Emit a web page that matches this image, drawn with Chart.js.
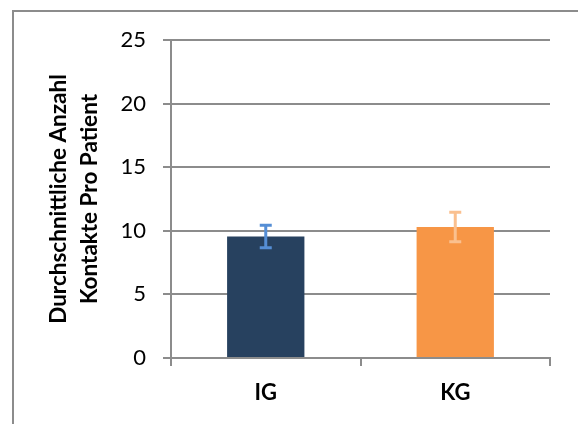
<!DOCTYPE html>
<html>
<head>
<meta charset="utf-8">
<script src="https://cdn.jsdelivr.net/npm/chart.js@4"></script>
<style>
  html, body { margin: 0; padding: 0; background: #fff; }
  canvas { display: block; }
</style>
</head>
<body>
<canvas id="myBarChart" width="578" height="424"></canvas>
<script>
// data
const groups = ['IG', 'KG'];
const means = [9.55, 10.29];
const errors = [0.88, 1.16];
const yTicks = [0, 5, 10, 15, 20, 25];

const barColors = ['#27415f', '#f79646'];
const errorColors = ['#558ed5', '#fac08f'];
const gray = '#8c8c8c';

// outline of the chart box (only top and left fall inside the picture)
const frame = {
    id: 'frame',
    beforeDraw(chart) {
        const ctx = chart.ctx;
        ctx.save();
        ctx.fillStyle = '#fff';
        ctx.fillRect(0, 0, chart.width, chart.height);
        ctx.strokeStyle = gray;
        ctx.lineWidth = 2;
        ctx.strokeRect(13, 11, chart.width + 20, chart.height + 20);
        ctx.restore();
    }
};

// simple +/- error whiskers, placed with the y scale
const errorBars = {
    id: 'errorBars',
    afterDatasetsDraw(chart) {
        const ctx = chart.ctx;
        const y = chart.scales.y;
        chart.getDatasetMeta(0).data.forEach((bar, i) => {
            const hi = y.getPixelForValue(means[i] + errors[i]);
            const lo = y.getPixelForValue(means[i] - errors[i]);
            ctx.save();
            ctx.strokeStyle = errorColors[i];
            ctx.lineWidth = 3;
            ctx.beginPath();
            ctx.moveTo(bar.x, hi);
            ctx.lineTo(bar.x, lo);
            ctx.moveTo(bar.x - 6, hi);
            ctx.lineTo(bar.x + 6, hi);
            ctx.moveTo(bar.x - 6, lo);
            ctx.lineTo(bar.x + 6, lo);
            ctx.stroke();
            ctx.restore();
        });
    }
};

const ctx = document.getElementById('myBarChart').getContext('2d');
const data = {
    labels: groups,
    datasets: [{
        data: means,
        backgroundColor: barColors,
        borderWidth: 0,
        categoryPercentage: 1,
        barPercentage: 0.408
    }]
};

const config = {
    type: 'bar',
    data: data,
    options: {
        responsive: false,
        animation: false,
        layout: {
            padding: { top: 40, right: 28, left: 0, bottom: 0 }
        },
        plugins: {
            legend: { display: false },
            tooltip: { enabled: false }
        },
        scales: {
            x: {
                afterFit: s => { s.height = 66; },
                grid: {
                    display: true,
                    drawOnChartArea: false,
                    drawTicks: true,
                    tickLength: 8,
                    color: gray,
                    lineWidth: 2
                },
                border: { display: true, color: gray, width: 2 },
                ticks: {
                    color: '#000',
                    padding: 14,
                    font: { family: 'Lato', size: 22, weight: 'bold' }
                }
            },
            y: {
                min: 0,
                max: 25,
                afterFit: s => { s.width = 171; },
                afterBuildTicks: s => { s.ticks = yTicks.map(v => ({ value: v })); },
                grid: {
                    color: gray,
                    lineWidth: 2,
                    tickLength: 8
                },
                border: { display: true, color: gray, width: 2 },
                ticks: {
                    color: '#000',
                    padding: 17,
                    font: { family: 'Lato', size: 22 }
                },
                title: {
                    display: true,
                    text: ['Durchschnittliche Anzahl', 'Kontakte Pro Patient'],
                    color: '#000',
                    padding: { top: 43, bottom: 0 },
                    font: { family: 'Lato', size: 22.5, weight: 'bold', lineHeight: 1.38 }
                }
            }
        }
    },
    plugins: [frame, errorBars]
};

const myBarChart = new Chart(ctx, config);
</script>
</body>
</html>
